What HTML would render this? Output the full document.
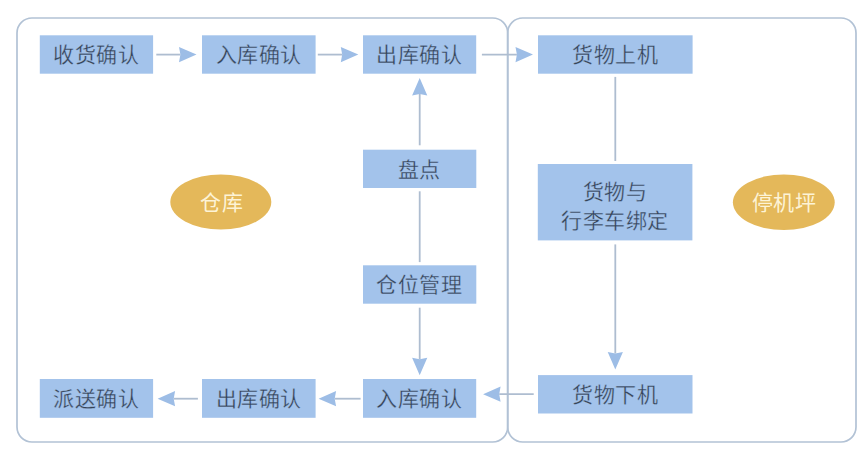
<!DOCTYPE html>
<html lang="zh-CN"><head><meta charset="utf-8">
<style>
html,body{margin:0;padding:0;background:#fff;width:868px;height:472px;overflow:hidden}
body{position:relative;font-family:"Liberation Sans",sans-serif}
svg{position:absolute;left:0;top:0}
.t{position:absolute;text-align:center;font-size:21px;color:#364354;box-sizing:border-box;white-space:nowrap;letter-spacing:0.5px;padding-right:0.5px;-webkit-text-stroke:0.3px #a3c3eb}
.e{color:#fdf3d6;-webkit-text-stroke:0}
</style></head><body>
<svg width="868" height="472" viewBox="0 0 868 472">
<rect x="17" y="18" width="490.7" height="424" rx="15" ry="15" fill="none" stroke="#b2c2d5" stroke-width="1.7"/>
<rect x="507.7" y="18" width="348.3" height="424" rx="15" ry="15" fill="none" stroke="#b2c2d5" stroke-width="1.7"/>
<rect x="39.8" y="35.3" width="113.30" height="38.40" fill="#a3c3eb"/>
<rect x="202" y="35.3" width="113.60" height="38.40" fill="#a3c3eb"/>
<rect x="363" y="35.3" width="113.20" height="38.40" fill="#a3c3eb"/>
<rect x="538" y="35.3" width="154.60" height="38.40" fill="#a3c3eb"/>
<rect x="363" y="149.7" width="113.30" height="38.30" fill="#a3c3eb"/>
<rect x="363" y="265.3" width="113.30" height="38.40" fill="#a3c3eb"/>
<rect x="39.8" y="379" width="113.30" height="38.80" fill="#a3c3eb"/>
<rect x="202" y="379" width="113.60" height="38.80" fill="#a3c3eb"/>
<rect x="363" y="379" width="113.20" height="38.80" fill="#a3c3eb"/>
<rect x="538" y="375.1" width="154.50" height="38.40" fill="#a3c3eb"/>
<rect x="537.8" y="164" width="154.6" height="76.4" fill="#a3c3eb"/>
<line x1="156.3" y1="54.6" x2="180.4" y2="54.6" stroke="#aebdd0" stroke-width="1.8"/><path d="M196.5 54.6 L179.0 47.0 L180.4 54.6 L179.0 62.2 Z" fill="#9dbde6"/>
<line x1="317.8" y1="54.6" x2="342.2" y2="54.6" stroke="#aebdd0" stroke-width="1.8"/><path d="M358.3 54.6 L340.8 47.0 L342.2 54.6 L340.8 62.2 Z" fill="#9dbde6"/>
<line x1="481.9" y1="54.6" x2="516.9" y2="54.6" stroke="#aebdd0" stroke-width="1.8"/><path d="M533.0 54.6 L515.5 47.0 L516.9 54.6 L515.5 62.2 Z" fill="#9dbde6"/>
<line x1="419.7" y1="145.3" x2="419.7" y2="94.0" stroke="#aebdd0" stroke-width="1.8"/><path d="M419.7 77.9 L412.09999999999997 95.4 L419.7 94.0 L427.3 95.4 Z" fill="#9dbde6"/>
<line x1="419.7" y1="191.3" x2="419.7" y2="262.1" stroke="#aebdd0" stroke-width="1.8"/>
<line x1="419.7" y1="307.7" x2="419.7" y2="359.2" stroke="#aebdd0" stroke-width="1.8"/><path d="M419.7 375.3 L412.09999999999997 357.8 L419.7 359.2 L427.3 357.8 Z" fill="#9dbde6"/>
<line x1="615.3" y1="76.9" x2="615.3" y2="161" stroke="#aebdd0" stroke-width="1.8"/>
<line x1="615.3" y1="244.4" x2="615.3" y2="353.5" stroke="#aebdd0" stroke-width="1.8"/><path d="M615.3 369.6 L607.6999999999999 352.1 L615.3 353.5 L622.9 352.1 Z" fill="#9dbde6"/>
<line x1="197.9" y1="398.7" x2="173.7" y2="398.7" stroke="#aebdd0" stroke-width="1.8"/><path d="M157.6 398.7 L175.1 391.09999999999997 L173.7 398.7 L175.1 406.3 Z" fill="#9dbde6"/>
<line x1="360.6" y1="398.7" x2="334.70000000000005" y2="398.7" stroke="#aebdd0" stroke-width="1.8"/><path d="M318.6 398.7 L336.1 391.09999999999997 L334.70000000000005 398.7 L336.1 406.3 Z" fill="#9dbde6"/>
<line x1="533.7" y1="394.2" x2="499.20000000000005" y2="394.2" stroke="#aebdd0" stroke-width="1.8"/><path d="M483.1 394.2 L500.6 386.59999999999997 L499.20000000000005 394.2 L500.6 401.8 Z" fill="#9dbde6"/>
<ellipse cx="220.8" cy="202" rx="50.5" ry="27.5" fill="#e4b85a"/>
<ellipse cx="783.8" cy="202.3" rx="50.9" ry="27.8" fill="#e4b85a"/>
</svg>
<div class="t" style="left:39.8px;top:36.20px;width:113.30px;height:38.40px;line-height:38.40px">收货确认</div>
<div class="t" style="left:202px;top:36.20px;width:113.60px;height:38.40px;line-height:38.40px">入库确认</div>
<div class="t" style="left:363px;top:36.20px;width:113.20px;height:38.40px;line-height:38.40px">出库确认</div>
<div class="t" style="left:538px;top:36.20px;width:154.60px;height:38.40px;line-height:38.40px">货物上机</div>
<div class="t" style="left:363px;top:150.60px;width:113.30px;height:38.30px;line-height:38.30px">盘点</div>
<div class="t" style="left:363px;top:266.20px;width:113.30px;height:38.40px;line-height:38.40px">仓位管理</div>
<div class="t" style="left:39.8px;top:379.90px;width:113.30px;height:38.80px;line-height:38.80px">派送确认</div>
<div class="t" style="left:202px;top:379.90px;width:113.60px;height:38.80px;line-height:38.80px">出库确认</div>
<div class="t" style="left:363px;top:379.90px;width:113.20px;height:38.80px;line-height:38.80px">入库确认</div>
<div class="t" style="left:538px;top:376.00px;width:154.50px;height:38.40px;line-height:38.40px">货物下机</div>
<div class="t" style="left:537.8px;top:164px;width:154.6px;height:76.4px;padding-top:13px;line-height:29.4px">货物与<br>行李车绑定</div>
<div class="t e" style="left:171.3px;top:175.2px;width:101px;height:55px;line-height:55px">仓库</div>
<div class="t e" style="left:733.5px;top:175px;width:101.8px;height:55.6px;line-height:55.6px">停机坪</div>
</body></html>
